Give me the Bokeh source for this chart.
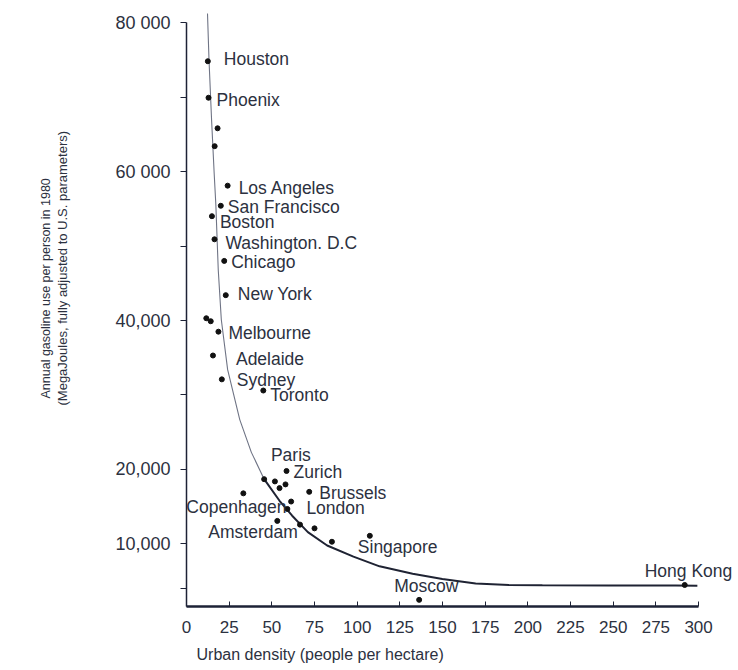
import numpy as np
from bokeh.plotting import figure
from bokeh.models import Range1d, FixedTicker, Title
from bokeh.core.properties import value
from bokeh.embed import file_html
from bokeh.resources import INLINE

# ---- data ----
# urban density (people per hectare) and annual gasoline use per person (MJ), 1980
density = [12.5, 12.9, 18.2, 16.5, 24.1, 20.1, 14.9, 16.4, 22.1, 23.0,
           11.6, 14.2, 18.7, 15.5, 20.7, 45.0, 58.6, 45.5, 51.8, 58.0,
           54.5, 33.3, 71.9, 61.3, 59.1, 53.2, 66.5, 75.0, 85.2, 107.4,
           136.3, 291.9]
gasoline = [74800, 69900, 65800, 63400, 58100, 55400, 54000, 50900, 48000, 43400,
            40300, 39900, 38500, 35300, 32100, 30600, 19800, 18700, 18400, 18000,
            17500, 16800, 17000, 15700, 14700, 13100, 12600, 12100, 10300, 11100,
            2500, 4500]
city = ["Houston", "Phoenix", "", "", "Los Angeles", "San Francisco", "Boston",
        "Washington. D.C", "Chicago", "New York", "", "", "Melbourne", "Adelaide",
        "Sydney", "Toronto", "Zurich", "", "Paris", "", "", "Copenhagen", "Brussels",
        "", "London", "Amsterdam", "", "", "", "Singapore", "Moscow", "Hong Kong"]

# fitted trend curve
curve_x = [12.3, 13.2, 14.7, 16.2, 17.2, 18.6, 20.4, 24.1, 31.2, 38.0, 45.5,
           54.5, 61.9, 71.1, 82.4, 97.8, 113.1, 132.5, 149.9, 169.4, 188.9,
           208.5, 247.5, 286.6, 299.3]
curve_y = [81200, 74900, 66900, 59800, 55500, 46800, 40100, 33400, 26700, 22300, 18700,
           15800, 13800, 11600, 9800, 8300, 7000, 6000, 5300, 4700, 4490,
           4450, 4430, 4420, 4400]

x_ticks = [0, 25, 50, 75, 100, 125, 150, 175, 200, 225, 250, 275, 300]
y_ticks = [4000, 10000, 20000, 30000, 40000, 50000, 60000, 70000, 80000]
y_tick_labels = ["", "10,000", "20,000", "", "40,000", "", "60 000", "", "80 000"]

x_title = "Urban density (people per hectare)"
y_title_1 = "Annual gasoline use per person in 1980"
y_title_2 = "(MegaJoules, fully adjusted to U.S. parameters)"

# ---- label placement (pixel offsets from each city's dot) ----
label_dx = {"Houston": 16, "Phoenix": 8, "Los Angeles": 11, "San Francisco": 7,
            "Boston": 8, "Washington. D.C": 11, "Chicago": 7, "New York": 12,
            "Melbourne": 10, "Adelaide": 23, "Sydney": 15, "Toronto": 7,
            "Paris": -4, "Zurich": 7, "Brussels": 10, "Copenhagen": -57,
            "London": 19, "Amsterdam": -69, "Singapore": -12, "Moscow": -25,
            "Hong Kong": -40}
label_dy = {"Houston": -2, "Phoenix": 2, "Los Angeles": 2, "San Francisco": 1,
            "Boston": 6, "Washington. D.C": 4, "Chicago": 1.5, "New York": -1,
            "Melbourne": 1, "Adelaide": 3, "Sydney": 1, "Toronto": 4,
            "Paris": -26, "Zurich": 1, "Brussels": 1, "Copenhagen": 14,
            "London": -1, "Amsterdam": 11, "Singapore": 11, "Moscow": -13.5,
            "Hong Kong": -14}

INK = "#1d2236"
TXT = "#2c3140"
FONT = "Liberation Sans"

Y_START, Y_END = 1610, 81880

p = figure(width=738, height=670,
           x_range=Range1d(0, 323.4), y_range=Range1d(Y_START, Y_END),
           output_backend="svg", toolbar_location=None,
           min_border_left=186, min_border_right=0,
           min_border_top=8, min_border_bottom=64)

p.grid.visible = False
p.outline_line_color = None
p.background_fill_color = "white"

# trend curve: faint upper part, heavier lower part
split = 10
p.line(curve_x[:split + 1], curve_y[:split + 1], line_width=1.1, line_color="#6f7485")
p.line(curve_x[split:], curve_y[split:], line_width=2, line_color="#1f2333")

# city dots
p.scatter(density, gasoline, size=5, color="#111111")

# city labels
lx, ly, lt, ldx, ldy = [], [], [], [], []
for xv, yv, name in zip(density, gasoline, city):
    if name:
        lx.append(xv); ly.append(yv); lt.append(name)
        ldx.append(label_dx[name]); ldy.append(label_dy[name])
p.text(x=lx, y=ly, text=lt, x_offset=ldx, y_offset=ldy,
       text_font=value(FONT), text_font_size="17.5px",
       text_align="left", text_baseline="middle", text_color=TXT)

# axes
p.xaxis.ticker = FixedTicker(ticks=x_ticks)
p.xaxis.bounds = (x_ticks[0], x_ticks[-1])
p.xaxis.axis_line_width = 2.5
p.xaxis.axis_line_color = INK
p.xaxis.major_tick_in = 5
p.xaxis.major_tick_out = 0
p.xaxis.major_tick_line_color = INK
p.xaxis.minor_tick_line_color = None
p.xaxis.major_label_standoff = 14
p.xaxis.major_label_text_font = FONT
p.xaxis.major_label_text_font_size = "17px"
p.xaxis.major_label_text_color = TXT

p.yaxis.ticker = FixedTicker(ticks=y_ticks)
p.yaxis.major_label_overrides = {t: l for t, l in zip(y_ticks, y_tick_labels)}
p.yaxis.bounds = (Y_START, y_ticks[-1])
p.yaxis.axis_line_width = 1.5
p.yaxis.axis_line_color = INK
p.yaxis.major_tick_in = 0
p.yaxis.major_tick_out = 6
p.yaxis.major_tick_line_color = INK
p.yaxis.minor_tick_line_color = None
p.yaxis.major_label_standoff = 10
p.yaxis.major_label_text_font = FONT
p.yaxis.major_label_text_font_size = "18px"
p.yaxis.major_label_text_color = TXT
# blank axis label used only as spacing between tick labels and the titles
p.yaxis.axis_label = " "
p.yaxis.axis_label_standoff = 25
p.yaxis.axis_label_text_font_size = "13px"

# axis titles
p.add_layout(Title(text=x_title, align="left", offset=10, standoff=16,
                   text_font=FONT, text_font_size="16px", text_font_style="normal",
                   text_color=TXT), "below")
p.add_layout(Title(text=y_title_2, align="left", offset=201, standoff=0,
                   text_font=FONT, text_font_size="13px", text_font_style="normal",
                   text_color=TXT), "left")
p.add_layout(Title(text=y_title_1, align="left", offset=208, standoff=0,
                   text_font=FONT, text_font_size="12.5px", text_font_style="normal",
                   text_color=TXT), "left")

open("out.html", "w").write(file_html(p, INLINE))
